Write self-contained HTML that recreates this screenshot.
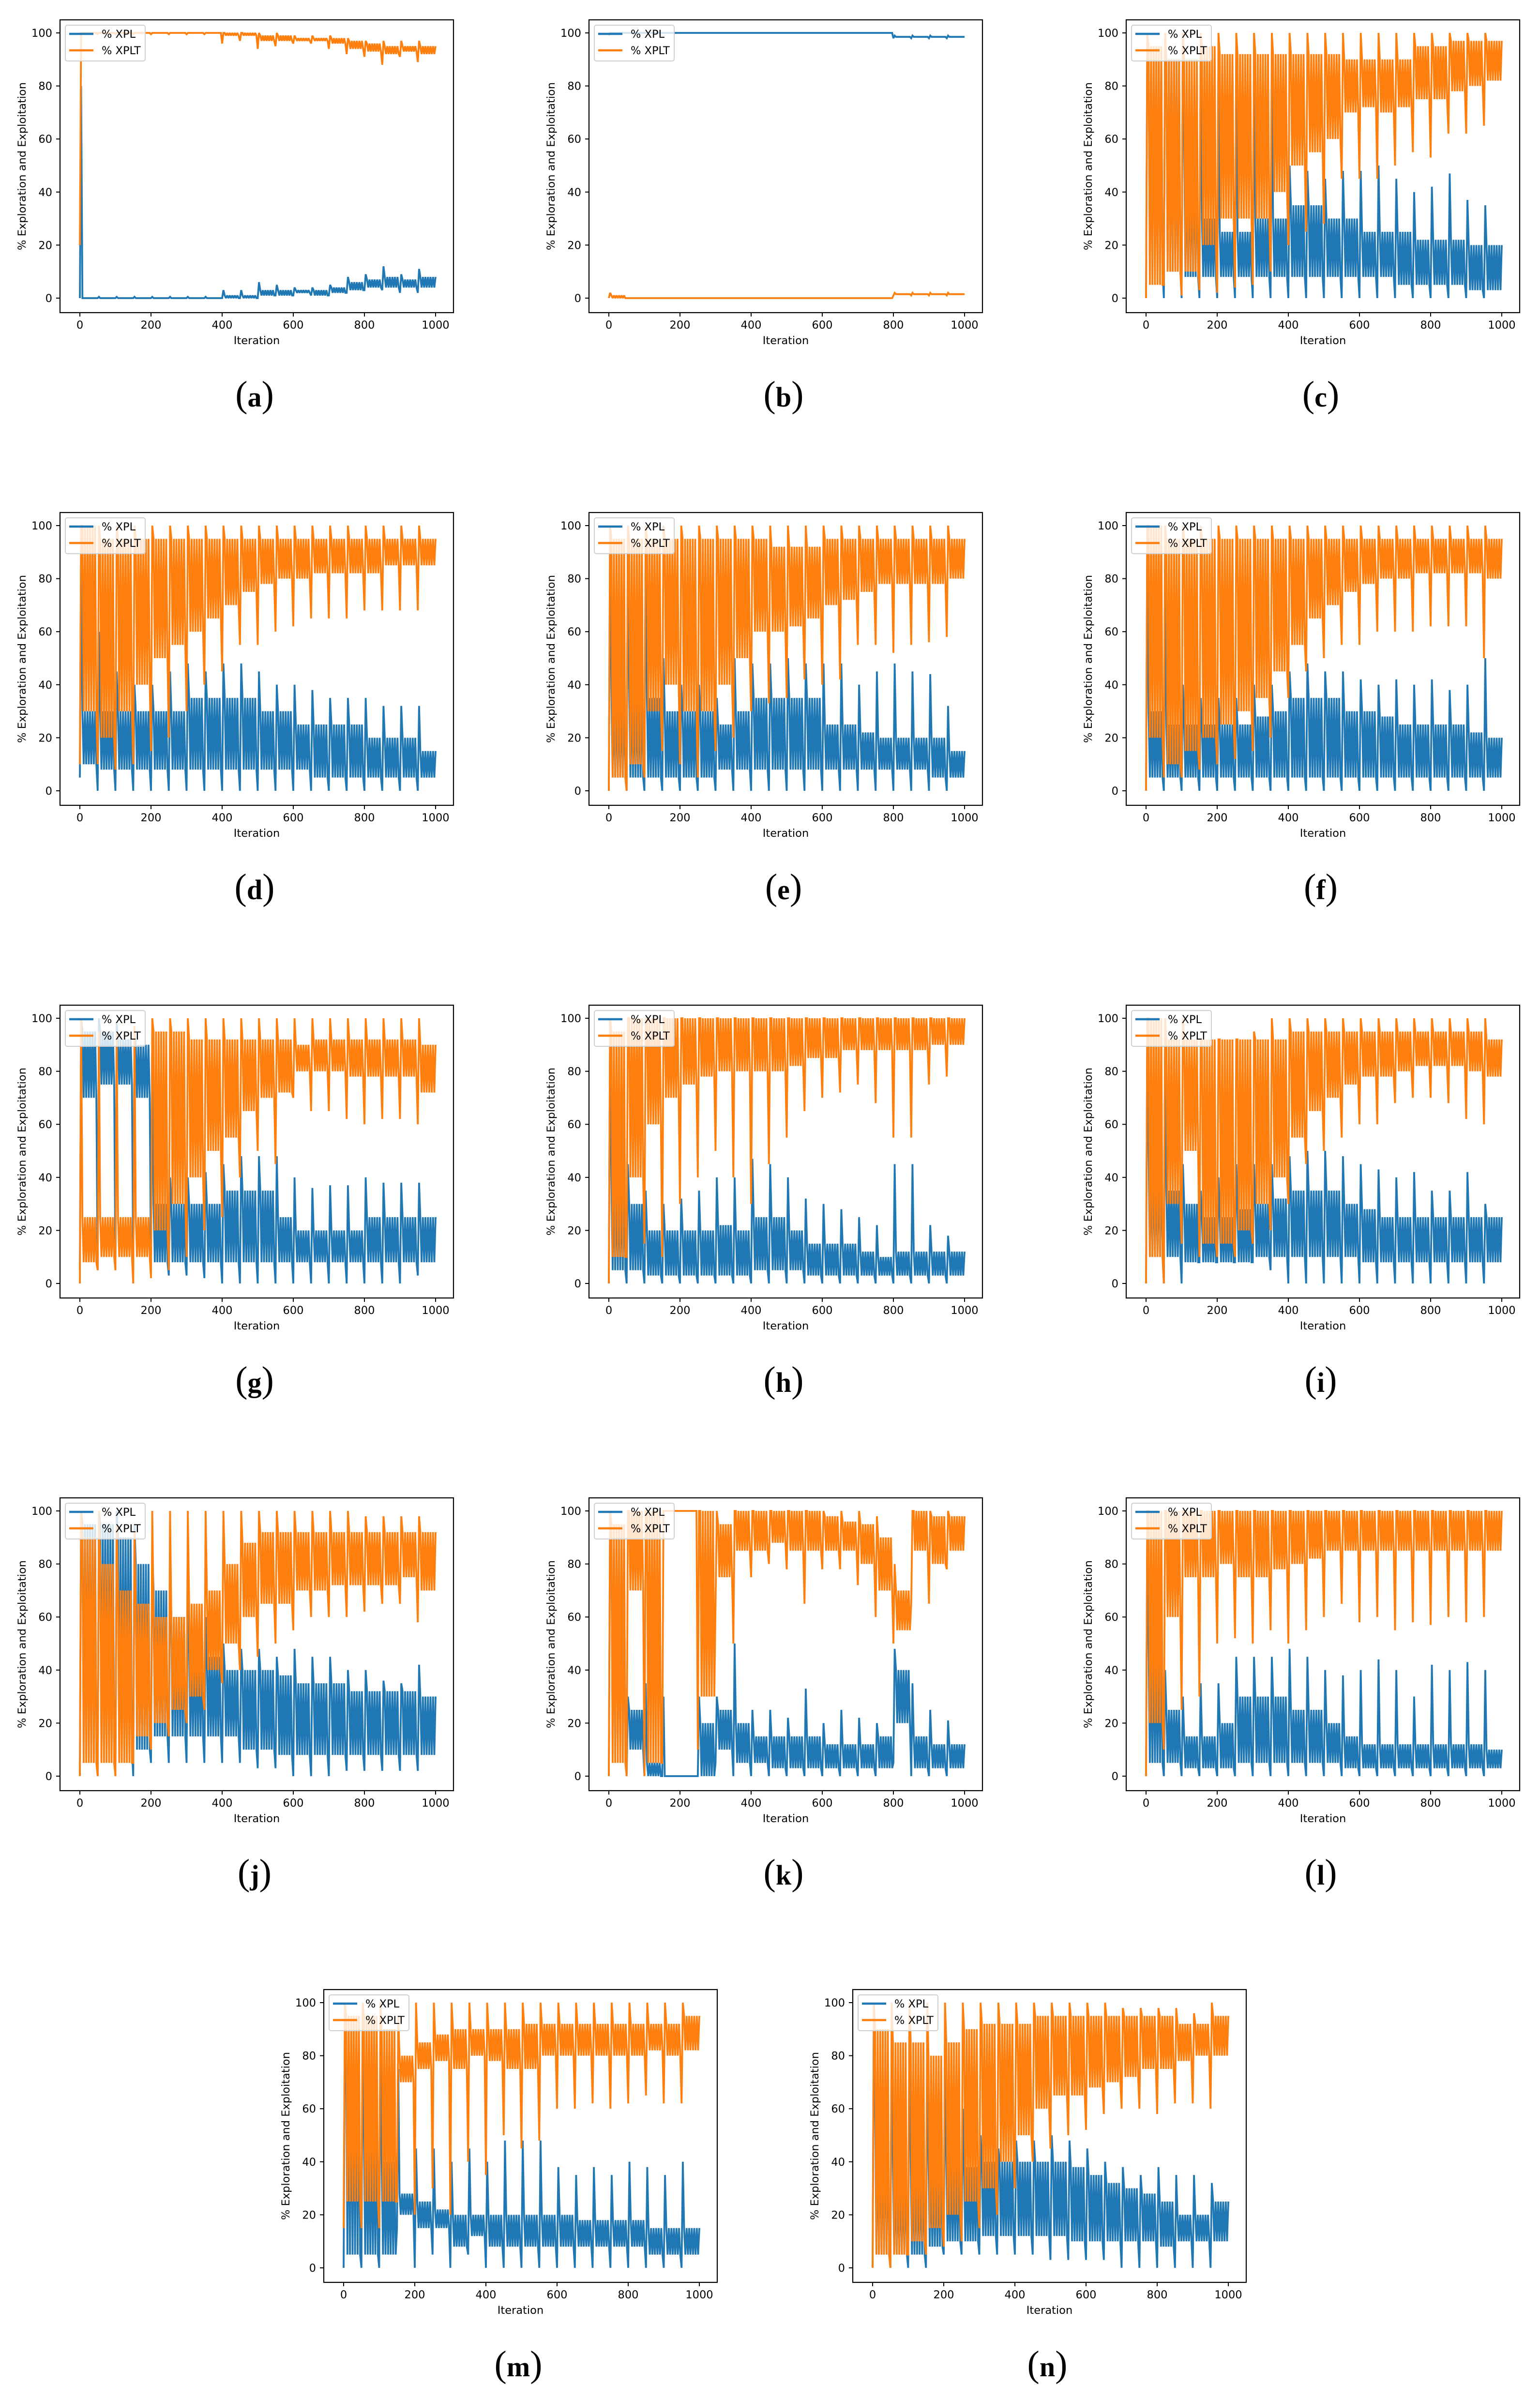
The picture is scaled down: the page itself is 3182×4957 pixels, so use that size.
<!DOCTYPE html>
<html>
<head>
<meta charset="utf-8">
<style>
html,body{margin:0;padding:0;background:#fff;}
svg{display:block;}
text{font-family:"DejaVu Sans","Liberation Sans",sans-serif;}
text.cap{font-family:"Liberation Serif","DejaVu Serif",serif;}
</style>
</head>
<body>
<svg id="fig" width="3182" height="4957" viewBox="0 0 3182 4957" xmlns="http://www.w3.org/2000/svg"></svg>
<script>
// ---------- data (per 50-iteration bin: lo, core-low, core-high, hi) ----------
const binStarts = [0,50,100,150,200,250,300,350,400,450,500,550,600,650,700,750,800,850,900,950];
const yTicks = [0,20,40,60,80,100];
const xTicks = [0,200,400,600,800,1000];
const panelLetters = ['a','b','c','d','e','f','g','h','i','j','k','l','m','n'];

// (a)
const xplLoA  = [0,0,0,0,0,0,0,0,0,0,0,1,1,1,1,2,3,3,2,2];
const xplQlA  = [0,0,0,0,0,0,0,0,0,0,1,1,2,1,2,3,4,4,4,4];
const xplQhA  = [0,0,0,0,0,0,0,0,1,1,3,3,3,3,4,6,7,8,7,8];
const xplHiA  = [80,0.5,0.5,0.5,0.5,0.5,0.5,0.5,3,3,6,5,4,4,5,8,9,12,9,11];
const xpltLoA = [20,99.5,99.5,99.5,99.5,99.5,99.5,99.5,96,97,94,95,96,96,94,92,91,88,91,89];
const xpltQlA = [100,100,100,100,100,100,100,100,99,99,97,97,97,97,96,94,93,92,93,92];
const xpltQhA = [100,100,100,100,100,100,100,100,100,100,99,99,98,98,98,97,96,95,95,95];
const xpltHiA = [100,100,100,100,100,100,100,100,100,100,100,100,99,99,99,98,97,97,97,97];
// (b)
const xplLoB  = [99,100,100,100,100,100,100,100,100,100,100,100,100,100,100,100,98,98,98,98];
const xplQlB  = [100,100,100,100,100,100,100,100,100,100,100,100,100,100,100,100,98.5,98.5,98.5,98.5];
const xplQhB  = [100,100,100,100,100,100,100,100,100,100,100,100,100,100,100,100,98.5,98.5,98.5,98.5];
const xplHiB  = [100,100,100,100,100,100,100,100,100,100,100,100,100,100,100,100,99,99,99,99];
const xpltLoB = [0,0,0,0,0,0,0,0,0,0,0,0,0,0,0,0,1,1,1,1];
const xpltQlB = [0,0,0,0,0,0,0,0,0,0,0,0,0,0,0,0,1.5,1.5,1.5,1.5];
const xpltQhB = [1,0,0,0,0,0,0,0,0,0,0,0,0,0,0,0,1.5,1.5,1.5,1.5];
const xpltHiB = [2,0,0,0,0,0,0,0,0,0,0,0,0,0,0,0,2,2,2,2];
// (c)
const xplLoC  = [0,0,0,0,0,0,0,0,0,0,0,0,0,0,0,0,0,0,0,0];
const xplQlC  = [10,10,8,8,8,8,8,8,8,8,8,8,8,8,5,5,5,5,3,3];
const xplQhC  = [90,90,60,30,25,25,30,30,35,35,30,30,25,25,25,22,22,22,20,20];
const xplHiC  = [100,100,100,95,80,95,90,80,50,48,45,48,48,50,45,40,42,47,37,35];
const xpltLoC = [0,5,1,3,2,4,5,10,20,25,28,45,45,45,50,55,53,62,62,65];
const xpltQlC = [5,10,10,20,30,30,30,40,50,55,60,70,72,70,72,75,75,78,80,82];
const xpltQhC = [95,90,90,95,92,92,92,92,92,92,92,90,90,90,90,95,95,97,97,97];
const xpltHiC = [100,100,100,100,100,100,100,100,100,100,100,100,100,100,100,100,100,100,100,100];
// (d)
const xplLoD  = [5,0,0,0,0,0,0,0,0,0,0,0,0,0,0,0,0,0,0,0];
const xplQlD  = [10,8,8,8,8,8,8,8,8,8,8,8,8,5,5,5,5,5,5,5];
const xplQhD  = [30,30,30,30,30,30,35,35,35,35,30,30,25,25,25,25,20,20,20,15];
const xplHiD  = [90,60,45,40,40,45,48,45,48,48,45,40,40,38,35,35,35,32,32,32];
const xpltLoD = [10,10,8,10,15,20,30,40,45,55,55,60,62,65,65,65,68,68,68,68];
const xpltQlD = [30,20,30,40,50,55,60,65,70,75,78,80,80,82,82,82,82,85,85,85];
const xpltQhD = [100,95,95,95,95,95,95,95,95,95,95,95,95,95,95,95,95,95,95,95];
const xpltHiD = [100,100,100,100,100,100,100,100,100,100,100,100,100,100,100,100,100,100,100,100];
// (e)
const xplLoE  = [0,0,0,0,0,0,0,0,0,0,0,0,0,0,0,0,0,0,0,0];
const xplQlE  = [5,5,5,5,5,5,8,8,8,8,8,8,8,8,8,8,8,8,5,5];
const xplQhE  = [40,40,35,30,30,30,25,30,35,35,35,35,25,25,22,20,20,20,20,15];
const xplHiE  = [100,100,92,50,40,40,35,50,48,48,50,48,48,48,40,45,48,45,44,32];
const xpltLoE = [0,0,5,15,10,5,15,20,30,33,35,42,40,42,55,55,52,55,56,58];
const xpltQlE = [5,10,30,40,30,30,40,50,60,60,62,65,70,72,75,78,78,78,78,80];
const xpltQhE = [95,95,95,95,95,95,95,95,95,92,92,92,95,95,95,95,95,95,95,95];
const xpltHiE = [100,100,100,100,100,100,100,100,100,100,100,100,100,100,100,100,100,100,100,100];
// (f)
const xplLoF  = [0,0,0,0,0,0,0,0,0,0,0,0,0,0,0,0,0,0,0,0];
const xplQlF  = [5,5,5,5,5,5,5,5,5,5,5,5,5,5,5,5,5,5,5,5];
const xplQhF  = [30,25,25,25,25,25,28,30,35,35,35,30,30,28,25,25,25,25,22,20];
const xplHiF  = [100,80,40,35,35,35,40,40,45,48,45,45,42,40,42,40,42,38,40,50];
const xpltLoF = [0,5,5,8,10,12,15,20,35,45,50,55,55,60,60,60,62,62,62,50];
const xpltQlF = [20,10,15,20,25,30,35,45,55,65,70,75,78,80,80,82,82,82,82,80];
const xpltQhF = [100,95,95,95,95,95,95,95,95,95,95,95,95,95,95,95,95,95,95,95];
const xpltHiF = [100,100,100,100,100,100,100,100,100,100,100,100,100,100,100,100,100,100,100,100];
// (g)
const xplLoG  = [5,5,5,5,5,3,3,2,0,0,0,0,0,0,0,0,0,0,0,3];
const xplQlG  = [70,75,75,70,8,8,8,8,8,8,8,8,8,8,8,8,8,8,8,8];
const xplQhG  = [95,95,92,90,30,30,30,30,35,35,35,25,20,20,20,20,25,25,25,25];
const xplHiG  = [100,100,98,95,95,40,40,42,45,48,48,48,40,36,37,37,40,38,38,38];
const xpltLoG = [0,5,5,0,2,5,10,20,25,40,50,45,70,65,65,62,60,62,62,60];
const xpltQlG = [8,10,10,10,20,30,40,50,55,65,70,72,80,80,80,78,78,78,78,72];
const xpltQhG = [25,25,25,25,95,95,92,92,92,92,92,92,90,92,92,92,92,92,92,90];
const xpltHiG = [100,95,95,97,100,100,100,100,100,100,100,100,100,100,100,100,100,100,100,100];
// (h)
const xplLoH  = [0,0,0,0,0,0,0,0,0,0,0,0,0,0,0,0,0,0,0,0];
const xplQlH  = [5,5,3,3,3,3,3,3,5,5,5,3,3,3,3,3,3,3,3,3];
const xplQhH  = [40,30,20,20,20,20,22,20,25,25,20,15,15,15,12,10,12,12,12,12];
const xplHiH  = [100,45,35,30,32,35,40,40,47,45,40,32,30,28,25,22,45,45,22,18];
const xpltLoH = [0,10,15,10,30,40,50,40,30,45,55,65,70,72,75,68,55,55,75,78];
const xpltQlH = [10,40,60,70,75,78,80,80,80,80,82,85,85,88,88,88,88,88,90,90];
const xpltQhH = [95,100,100,100,100,100,100,100,100,100,100,100,100,100,100,100,100,100,100,100];
const xpltHiH = [100,100,100,100,100,100,100,100,100,100,100,100,100,100,100,100,100,100,100,100];
// (i)
const xplLoI  = [0,0,0,8,8,8,8,5,0,0,0,0,0,0,0,0,0,0,0,0];
const xplQlI  = [10,10,8,8,8,8,10,10,10,10,10,10,8,8,8,8,8,8,8,8];
const xplQhI  = [50,35,30,25,25,28,30,32,35,35,35,30,28,25,25,25,25,25,25,25];
const xplHiI  = [100,90,45,35,40,45,45,45,48,50,50,48,45,43,40,42,35,35,42,30];
const xpltLoI = [0,0,15,10,10,10,15,20,30,45,50,55,60,60,68,70,70,68,62,60];
const xpltQlI = [10,30,50,15,15,20,30,40,55,65,70,75,78,78,80,82,82,82,80,78];
const xpltQhI = [100,92,92,92,92,92,92,92,95,95,95,95,95,95,95,95,95,95,95,92];
const xpltHiI = [100,100,100,92,92,92,95,100,100,100,100,100,100,100,100,100,100,100,100,100];
// (j)
const xplLoJ  = [0,0,0,0,5,5,5,5,5,5,3,3,0,0,0,2,2,2,2,2];
const xplQlJ  = [10,10,10,10,15,15,15,15,15,10,10,8,8,8,8,8,8,8,8,8];
const xplQhJ  = [95,95,90,80,70,60,50,45,40,40,40,38,35,35,35,32,32,32,32,30];
const xplHiJ  = [100,100,100,95,85,80,70,60,50,48,48,45,48,45,45,40,40,36,35,42];
const xpltLoJ = [0,0,0,5,10,15,20,25,35,40,45,50,55,60,60,60,62,65,65,58];
const xpltQlJ = [5,5,5,15,20,25,30,40,50,60,65,65,70,70,72,72,72,72,75,70];
const xpltQhJ = [90,80,70,65,60,60,65,70,80,88,92,92,92,92,92,92,92,92,92,92];
const xpltHiJ = [100,100,95,92,100,100,100,100,100,100,100,100,100,100,100,100,98,98,98,98];
// (k)
const xplLoK  = [0,0,0,0,0,0,5,0,0,0,0,0,0,0,0,0,5,0,0,0];
const xplQlK  = [10,10,0,0,0,0,10,5,5,3,3,3,3,3,3,3,20,3,3,3];
const xplQhK  = [90,25,5,0,0,20,25,20,15,15,15,15,12,12,12,15,40,15,12,12];
const xplHiK  = [100,30,35,30,0,30,30,50,25,25,22,33,20,25,22,20,48,35,25,21];
const xpltLoK = [0,0,0,5,100,10,65,50,75,80,78,65,78,78,72,60,50,65,65,78];
const xpltQlK = [5,70,5,100,100,30,75,85,85,88,85,85,85,85,80,70,55,85,80,85];
const xpltQhK = [95,100,100,100,100,100,95,100,100,100,100,100,98,96,95,90,70,100,98,98];
const xpltHiK = [100,100,100,100,100,100,100,100,100,100,100,100,100,100,100,98,80,100,100,100];
// (l)
const xplLoL  = [0,0,0,0,0,0,0,0,0,0,0,0,0,0,0,0,0,0,0,0];
const xplQlL  = [5,5,3,3,3,5,5,5,5,5,5,3,3,3,3,3,3,3,3,3];
const xplQhL  = [50,25,15,15,20,30,30,30,25,25,20,15,12,12,12,12,12,12,12,10];
const xplHiL  = [100,40,30,35,35,45,45,45,48,45,40,38,40,44,40,30,42,40,43,40];
const xpltLoL = [0,10,25,30,50,52,50,55,50,55,60,65,58,60,55,58,57,60,58,60];
const xpltQlL = [20,60,75,75,80,75,75,78,80,82,85,85,85,85,85,85,85,85,85,85];
const xpltQhL = [100,100,100,100,100,100,100,100,100,100,100,100,100,100,100,100,100,100,100,100];
const xpltHiL = [100,100,100,100,100,100,100,100,100,100,100,100,100,100,100,100,100,100,100,100];
// (m)
const xplLoM  = [0,0,0,15,0,5,0,5,0,0,0,0,0,0,0,0,0,0,0,0];
const xplQlM  = [5,5,5,20,15,15,8,12,8,8,8,8,8,8,8,8,8,5,5,5];
const xplQhM  = [80,50,40,28,25,22,20,20,20,20,20,20,20,18,18,18,18,15,15,15];
const xplHiM  = [90,90,85,75,45,45,40,45,40,48,48,48,38,35,38,35,40,38,35,40];
const xpltLoM = [15,15,15,25,20,30,20,40,35,50,45,48,60,60,62,60,62,65,62,62];
const xpltQlM = [25,25,25,70,75,78,75,80,78,75,75,80,80,80,80,80,80,82,80,82];
const xpltQhM = [95,95,90,80,85,88,90,90,90,90,92,92,92,92,92,92,92,92,92,95];
const xpltHiM = [100,100,100,95,100,100,100,100,100,100,100,100,100,100,100,100,100,100,100,100];
// (n)
const xplLoN  = [0,0,0,0,5,5,5,5,5,5,3,3,3,3,0,0,0,0,0,0];
const xplQlN  = [5,5,5,8,10,10,12,12,12,12,12,10,10,10,10,10,8,10,10,10];
const xplQhN  = [60,40,40,40,40,38,40,40,40,40,40,38,35,32,30,28,25,20,20,25];
const xplHiN  = [100,90,95,90,80,60,50,45,48,48,50,48,45,40,38,35,38,35,35,32];
const xpltLoN = [0,0,5,5,8,10,15,20,30,40,45,50,52,58,60,60,58,62,62,60];
const xpltQlN = [5,5,10,15,20,25,30,40,50,60,65,65,68,70,72,75,75,78,80,80];
const xpltQhN = [90,85,85,80,85,90,92,92,92,95,95,95,95,95,95,95,95,92,92,95];
const xpltHiN = [100,100,100,100,100,100,100,100,100,100,100,100,100,100,98,98,98,98,96,100];

const seriesSets = [
  [[xplLoA,xplQlA,xplQhA,xplHiA],[xpltLoA,xpltQlA,xpltQhA,xpltHiA]],
  [[xplLoB,xplQlB,xplQhB,xplHiB],[xpltLoB,xpltQlB,xpltQhB,xpltHiB]],
  [[xplLoC,xplQlC,xplQhC,xplHiC],[xpltLoC,xpltQlC,xpltQhC,xpltHiC]],
  [[xplLoD,xplQlD,xplQhD,xplHiD],[xpltLoD,xpltQlD,xpltQhD,xpltHiD]],
  [[xplLoE,xplQlE,xplQhE,xplHiE],[xpltLoE,xpltQlE,xpltQhE,xpltHiE]],
  [[xplLoF,xplQlF,xplQhF,xplHiF],[xpltLoF,xpltQlF,xpltQhF,xpltHiF]],
  [[xplLoG,xplQlG,xplQhG,xplHiG],[xpltLoG,xpltQlG,xpltQhG,xpltHiG]],
  [[xplLoH,xplQlH,xplQhH,xplHiH],[xpltLoH,xpltQlH,xpltQhH,xpltHiH]],
  [[xplLoI,xplQlI,xplQhI,xplHiI],[xpltLoI,xpltQlI,xpltQhI,xpltHiI]],
  [[xplLoJ,xplQlJ,xplQhJ,xplHiJ],[xpltLoJ,xpltQlJ,xpltQhJ,xpltHiJ]],
  [[xplLoK,xplQlK,xplQhK,xplHiK],[xpltLoK,xpltQlK,xpltQhK,xpltHiK]],
  [[xplLoL,xplQlL,xplQhL,xplHiL],[xpltLoL,xpltQlL,xpltQhL,xpltHiL]],
  [[xplLoM,xplQlM,xplQhM,xplHiM],[xpltLoM,xpltQlM,xpltQhM,xpltHiM]],
  [[xplLoN,xplQlN,xplQhN,xplHiN],[xpltLoN,xpltQlN,xpltQhN,xpltHiN]]
];

// ---------- layout ----------
const NS = 'http://www.w3.org/2000/svg';
const svg = document.getElementById('fig');
const BOX = {l:124, t:41, r:937, b:646};
function xScale(v){ return 165 + v*0.735; }
function yScale(v){ return 616 - v*5.48; }
const panelOffsets = [
  [0,0],[1093,0],[2203,0],
  [0,1018],[1093,1018],[2203,1018],
  [0,2036],[1093,2036],[2203,2036],
  [0,3054],[1093,3054],[2203,3054],
  [545,4070],[1638,4070]
];
const colors = ['#1f77b4','#ff7f0e'];
const names = ['% XPL','% XPLT'];
const pattern = [0,3,2,1,2,1,2,1,2,1,2,1,2,1];

function el(tag, attrs, parent){
  const e = document.createElementNS(NS, tag);
  for (const k in attrs) e.setAttribute(k, attrs[k]);
  parent.appendChild(e);
  return e;
}

panelOffsets.forEach((off, p) => {
  const g = el('g', {transform:`translate(${off[0]},${off[1]})`}, svg);
  
  

  seriesSets[p].forEach((q, s) => {
    const pts = [];
    binStarts.forEach((b, i) => {
      pattern.forEach((k, j) => {
        const it = b + j * 50 / pattern.length;
        pts.push(xScale(it).toFixed(1) + ',' + yScale(q[k][i]).toFixed(1));
      });
    });
    pts.push(xScale(1000).toFixed(1) + ',' + yScale(q[2][binStarts.length-1]).toFixed(1));
    const line = el('polyline', {points: pts.join(' '), fill:'none', stroke: colors[s], 'stroke-width': 3.8, 'stroke-linejoin':'miter', 'stroke-miterlimit': 2}, g);
    
    
  });

  const box = el('rect', {x:BOX.l, y:BOX.t, width:BOX.r-BOX.l, height:BOX.b-BOX.t, fill:'none', stroke:'#000', 'stroke-width':2.2}, g);
  
  

  yTicks.forEach(v => {
    const y = yScale(v);
    const tk = el('line', {x1:BOX.l-8, x2:BOX.l, y1:y, y2:y, stroke:'#000', 'stroke-width':2}, g);
    
    
    const t = el('text', {x:BOX.l-16, y:y+8, 'text-anchor':'end', 'font-size':22.5, fill:'#000'}, g);
    t.textContent = String(v);
    
    
  });
  xTicks.forEach(v => {
    const x = xScale(v);
    const tk = el('line', {x1:x, x2:x, y1:BOX.b, y2:BOX.b+8, stroke:'#000', 'stroke-width':2}, g);
    
    
    const t = el('text', {x:x, y:BOX.b+33, 'text-anchor':'middle', 'font-size':22.5, fill:'#000'}, g);
    t.textContent = String(v);
    
    
  });
  const xt = el('text', {x:(BOX.l+BOX.r)/2, y:BOX.b+65, 'text-anchor':'middle', 'font-size':22.5, fill:'#000'}, g);
  xt.textContent = 'Iteration';
  
  
  const yt = el('text', {x:0, y:0, 'text-anchor':'middle', 'font-size':22.5, fill:'#000', transform:`translate(53,${(BOX.t+BOX.b)/2}) rotate(-90)`}, g);
  yt.textContent = '% Exploration and Exploitation';
  
  

  const lg = el('g', {}, g);
  
  
  const lr = el('rect', {x:BOX.l+11, y:BOX.t+11, width:165, height:74, rx:4, fill:'rgba(255,255,255,0.8)', stroke:'#d0d0d0', 'stroke-width':2}, lg);
  
  
  names.forEach((nm, s) => {
    const yy = BOX.t + 29 + s*34;
    const ll = el('line', {x1:BOX.l+19, x2:BOX.l+69, y1:yy, y2:yy, stroke:colors[s], 'stroke-width':4.5}, lg);
    
    
    const lt = el('text', {x:BOX.l+86, y:yy+8, 'font-size':22.5, fill:'#000'}, lg);
    lt.textContent = nm;
    
    
  });

  const cap = el('text', {x:526, y:840, 'text-anchor':'middle', fill:'#000', 'class':'cap'}, g);
  
  
  const p1 = el('tspan', {'font-size':76}, cap); p1.textContent = '(';
  const p2 = el('tspan', {'font-size':58, 'font-weight':'bold'}, cap); p2.textContent = panelLetters[p];
  const p3 = el('tspan', {'font-size':76}, cap); p3.textContent = ')';
});
</script>
</body>
</html>
